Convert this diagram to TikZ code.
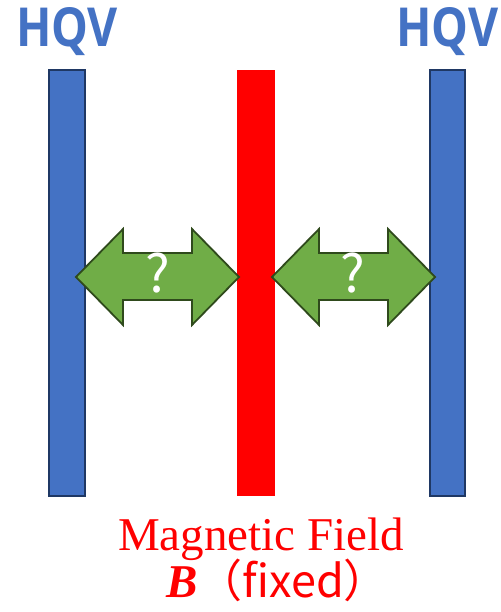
\documentclass[tikz,border=0pt]{standalone}
\usepackage{fontspec}
\setmainfont{Liberation Serif}
\newfontfamily\hqvfont{Open Sans}
\newfontfamily\cjkjp{Noto Sans CJK JP}
\definecolor{barblue}{HTML}{4472C4}
\definecolor{barline}{HTML}{1F3864}
\definecolor{arrgreen}{HTML}{70AD47}
\definecolor{arrline}{HTML}{2F4A1C}
\definecolor{fieldred}{HTML}{FF0000}
\tikzset{
  hqvbar/.style={fill=barblue, draw=barline, line width=1.8pt},
  fieldbar/.style={fill=fieldred, draw=none},
  dblarrow/.style={fill=arrgreen, draw=arrline, line width=1.8pt, line join=miter},
  hqvlabel/.style={text=barblue, font=\hqvfont\bfseries\fontsize{52}{56}\selectfont, inner sep=0pt},
  qmark/.style={text=white, font=\cjkjp\fontsize{52}{56}\selectfont, inner sep=0pt},
  fieldlabel/.style={text=fieldred, inner sep=0pt, align=center}
}
\begin{document}
\begin{tikzpicture}[x=1pt,y=-1pt]
\useasboundingbox (0,0) rectangle (500,612);
% bars
\path[hqvbar] (49,70) rectangle (85,496);
\path[fieldbar] (237,70) rectangle (275,496);
\path[hqvbar] (430,70) rectangle (465,496);
% arrows
\path[dblarrow] (76,277) -- (123,229) -- (123,253) -- (192,253) -- (192,229) -- (239,277)
  -- (192,325) -- (192,300) -- (123,300) -- (123,325) -- cycle;
\path[dblarrow] (272,277) -- (319,229) -- (319,253) -- (388,253) -- (388,229) -- (435,277)
  -- (388,325) -- (388,300) -- (319,300) -- (319,325) -- cycle;
\node[qmark, anchor=base] (q1) at (157.5,292) {?};
\node[qmark, anchor=base] (q2) at (353,292) {?};
% labels
\node[hqvlabel, anchor=base] (hqvL) at (67,47) {\resizebox{102pt}{39pt}{HQV}};
\node[hqvlabel, anchor=base] (hqvR) at (447.5,47) {\resizebox{102pt}{39pt}{HQV}};
\node[fieldlabel, anchor=base] (mf) at (261,550) {\fontsize{47}{50}\selectfont Magnetic Field};
\node[fieldlabel, anchor=base west] (bf) at (166,597) {\fontsize{47}{50}\selectfont\textbf{\textit{B}}{\cjkjp\fontsize{45}{50}\selectfont （fixed）}};
\end{tikzpicture}
\end{document}
